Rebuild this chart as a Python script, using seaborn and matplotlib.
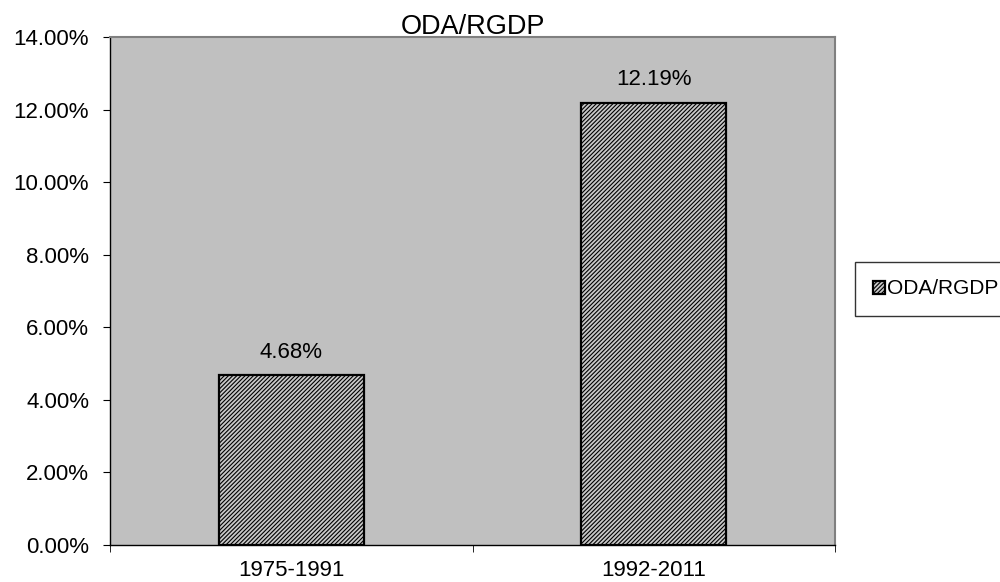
import matplotlib
matplotlib.use("Agg")
import matplotlib.pyplot as plt
import seaborn as sns
import pandas as pd
from matplotlib.ticker import FuncFormatter

# datos
periodos = ["1975-1991", "1992-2011"]
oda_rgdp = [4.68, 12.19]
serie = "ODA/RGDP"

df = pd.DataFrame({"periodo": periodos, "valor": oda_rgdp})

sns.set_style("white")
plt.rcParams["font.family"] = ["Liberation Sans", "DejaVu Sans"]
plt.rcParams["text.color"] = "black"
plt.rcParams["xtick.color"] = "black"
plt.rcParams["ytick.color"] = "black"
plt.rcParams["hatch.linewidth"] = 0.8
plt.rcParams["hatch.color"] = "#3a3a3a"

fig = plt.figure(figsize=(10, 5.82), dpi=100)
ax = fig.add_axes([0.110, 0.0636, 0.725, 0.8728])
ax.set_facecolor("#c0c0c0")

# barras con trama diagonal
sns.barplot(data=df, x="periodo", y="valor", color="#c8c8c8", width=0.40,
            edgecolor="black", linewidth=1.6, label=serie, ax=ax, saturation=1)
for p in ax.patches:
    p.set_hatch("////////")

ax.bar_label(ax.containers[0], labels=[f"{v:.2f}%" for v in oda_rgdp],
             padding=9, fontsize=16, color="black")

ax.set_ylim(0, 14)
ax.set_yticks(range(0, 15, 2))
ax.yaxis.set_major_formatter(FuncFormatter(lambda v, _: f"{v:.2f}%"))
ax.set_xlim(-0.5, 1.5)
ax.set_xticks([-0.5, 0.5, 1.5], minor=True)
ax.tick_params(axis="x", which="major", length=0, labelsize=16, pad=11, labelcolor="black")
ax.tick_params(axis="x", which="minor", length=5, direction="out", color="black", bottom=True)
ax.tick_params(axis="y", length=5, pad=10, direction="out", labelsize=16, left=True,
               color="black", labelcolor="black")
ax.set_xlabel("")
ax.set_ylabel("")

for s in ["left", "bottom"]:
    ax.spines[s].set_color("black")
    ax.spines[s].set_linewidth(1)
for s in ["top", "right"]:
    ax.spines[s].set_color("#808080")
    ax.spines[s].set_linewidth(1.5)

ax.set_title("ODA/RGDP", fontsize=19.5, pad=2, y=1.0, color="black")

# leyenda a la derecha
leg = ax.legend(loc="upper left", bbox_to_anchor=(0.860, 1 - 267 / 582),
                bbox_transform=fig.transFigure, fontsize=15,
                frameon=True, fancybox=False, edgecolor="black", handlelength=0.58,
                handleheight=0.58, handletextpad=0.12, borderpad=0.6, borderaxespad=0)
leg.get_frame().set_linewidth(1)
leg.get_frame().set_boxstyle("square", pad=0.25)
for t in leg.get_texts():
    t.set_color("black")

fig.savefig("out.png", dpi=100)
